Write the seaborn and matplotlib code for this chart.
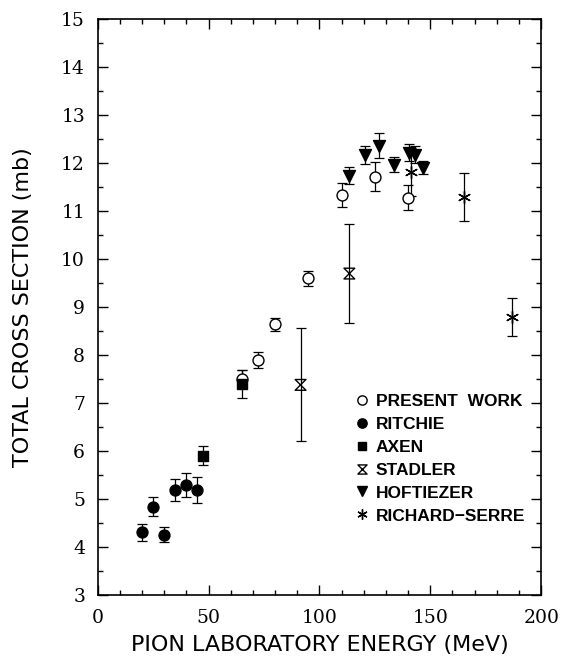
import numpy as np
import pandas as pd
import matplotlib
matplotlib.use("Agg")
import matplotlib.pyplot as plt
from matplotlib.path import Path
from matplotlib.lines import Line2D
from matplotlib.ticker import MultipleLocator
import seaborn as sns

# ---------------- data ----------------
present_e = [65.3, 72.5, 80.0, 95.0, 110.0, 125.0, 140.0]
present_s = [7.50, 7.90, 8.64, 9.60, 11.33, 11.72, 11.28]
present_err = [0.19, 0.16, 0.14, 0.15, 0.25, 0.30, 0.26]

ritchie_e = [20.0, 25.0, 30.0, 35.0, 40.0, 45.0]
ritchie_s = [4.31, 4.84, 4.26, 5.19, 5.29, 5.19]
ritchie_err = [0.18, 0.20, 0.16, 0.22, 0.25, 0.28]

axen_e = [47.5, 65.0]
axen_s = [5.90, 7.40]
axen_err = [0.20, 0.30]

stadler_e = [91.5, 113.5]
stadler_s = [7.38, 9.70]
stadler_err = [1.18, 1.03]

hoft_e = [113.5, 120.5, 126.8, 133.8, 140.3, 143.2, 146.5]
hoft_s = [11.74, 12.17, 12.36, 11.97, 12.22, 12.18, 11.91]
hoft_err = [0.18, 0.18, 0.26, 0.15, 0.18, 0.18, 0.14]

rs_e = [141.5, 165.2, 187.0]
rs_s = [11.81, 11.30, 8.79]
rs_err = [0.50, 0.50, 0.40]

labels = ["PRESENT  WORK", "RITCHIE", "AXEN", "STADLER", "HOFTIEZER", "RICHARD\u2212SERRE"]

xlabel = "PION LABORATORY ENERGY (MeV)"
ylabel = "TOTAL CROSS SECTION (mb)"

# ---------------- style ----------------
sns.set_theme(style="white")
plt.rcParams["font.family"] = ["DejaVu Sans"]

hourglass = Path([(-1, 1), (1, 1), (-1, -1), (1, -1), (-1, 1)],
                 [Path.MOVETO, Path.LINETO, Path.LINETO, Path.LINETO, Path.CLOSEPOLY])
asterisk = (6, 2, 0)

series = [
    (present_e, present_s, present_err, "o", "white", 62),
    (ritchie_e, ritchie_s, ritchie_err, "o", "black", 62),
    (axen_e, axen_s, axen_err, "s", "black", 52),
    (stadler_e, stadler_s, stadler_err, hourglass, "none", 60),
    (hoft_e, hoft_s, hoft_err, "v", "black", 74),
    (rs_e, rs_s, rs_err, asterisk, "black", 75),
]

fig = plt.figure(figsize=(5.61, 6.58), dpi=100)
ax = fig.add_axes([0.174, 0.0957, 0.7907, 0.875])

handles = []
for (e, s, err, mk, fc, size), lab in zip(series, labels):
    df = pd.DataFrame({"energy": e, "sigma": s, "err": err})
    ax.errorbar(df["energy"], df["sigma"], yerr=df["err"], fmt="none",
                ecolor="black", elinewidth=0.9, capsize=3.8, capthick=0.9, zorder=2)
    sns.scatterplot(data=df, x="energy", y="sigma", marker=mk, s=size,
                    facecolor=fc, edgecolor="black", linewidth=1.0,
                    ax=ax, zorder=3, legend=False)
    handles.append(Line2D([], [], linestyle="none", marker=mk,
                          markersize=np.sqrt(size) * 0.85,
                          markerfacecolor=fc, markeredgecolor="black",
                          markeredgewidth=1.0, label=lab))

ax.set_xlim(0, 200)
ax.set_ylim(3, 15)
ax.xaxis.set_major_locator(MultipleLocator(50))
ax.xaxis.set_minor_locator(MultipleLocator(10))
ax.yaxis.set_major_locator(MultipleLocator(1))
ax.yaxis.set_minor_locator(MultipleLocator(0.5))

for sp in ax.spines.values():
    sp.set_linewidth(1.2)
    sp.set_color("black")

ax.tick_params(which="both", direction="in", top=True, right=True,
               bottom=True, left=True, color="black", width=1.0)
ax.tick_params(which="major", length=7)
ax.tick_params(which="minor", length=3.5)
ax.tick_params(axis="both", which="major", labelsize=13.5,
               labelfontfamily="DejaVu Serif", labelcolor="black")
ax.tick_params(axis="x", pad=10)
ax.tick_params(axis="y", pad=9)

ax.set_xlabel(xlabel, fontsize=16, color="black", fontfamily="DejaVu Sans")
ax.set_ylabel(ylabel, fontsize=16, color="black", fontfamily="DejaVu Sans")
ax.xaxis.set_label_coords(0.5, -0.07)
ax.yaxis.set_label_coords(-0.145, 0.5)

leg = ax.legend(handles=handles, loc="upper left",
                bbox_to_anchor=(0.565, 0.362), frameon=False,
                handlelength=0.8, handletextpad=0.4, labelspacing=0.45,
                borderaxespad=0, labelcolor="black",
                prop={"family": "Liberation Sans", "weight": "bold", "size": 12.5})

fig.savefig("out.png", dpi=100, facecolor="white")
